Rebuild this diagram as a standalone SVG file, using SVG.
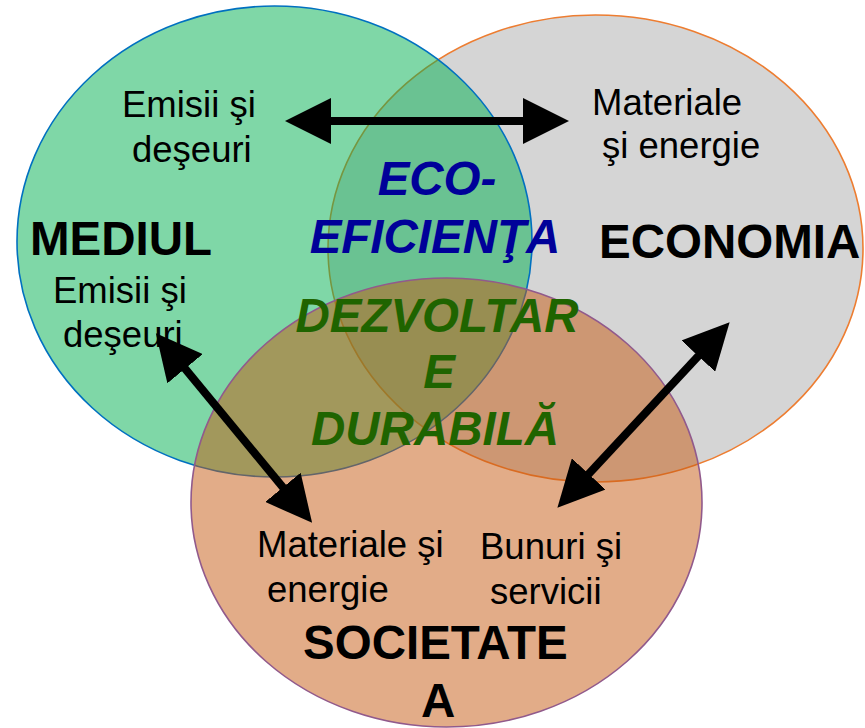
<svg xmlns="http://www.w3.org/2000/svg" width="865" height="728" viewBox="0 0 865 728">
<style>
.t{font-family:"Liberation Sans",Arial,sans-serif;font-size:36.5px;fill:#000}
.b{font-family:"Liberation Sans",Arial,sans-serif;font-size:47.5px;font-weight:bold;fill:#000}
.eco{font-family:"Liberation Sans",Arial,sans-serif;font-size:47.5px;font-weight:bold;font-style:italic;fill:#000099;text-anchor:middle}
.dd{font-family:"Liberation Sans",Arial,sans-serif;font-size:47.5px;font-weight:bold;font-style:italic;fill:#1F6400;text-anchor:middle}
.arr{stroke:#000;stroke-width:8;fill:none;marker-start:url(#ah);marker-end:url(#ah)}
</style>
<defs>
<marker id="ah" markerUnits="userSpaceOnUse" markerWidth="46" markerHeight="46" viewBox="0 0 46 46" refX="26" refY="23" orient="auto-start-reverse">
<path d="M0,0 L46,23 L0,46 Z" fill="#000"/>
</marker>
</defs>
<g id="economia">
<ellipse cx="595.5" cy="248.5" rx="267.5" ry="233.5" fill="#D5D5D5" stroke="#ED7D31" stroke-width="1.6"/>
<text class="b" x="599" y="258">ECONOMIA</text>
</g>
<g id="mediul">
<ellipse cx="274.5" cy="241.5" rx="257.5" ry="235.5" fill="#00B050" fill-opacity="0.5" stroke="#0070C0" stroke-width="1.6"/>
<text class="b" x="30" y="255">MEDIUL</text>
</g>
<g id="societatea">
<ellipse cx="446.5" cy="502.5" rx="255.5" ry="224.5" fill="#C55A11" fill-opacity="0.5" stroke="#915A8C" stroke-width="1.6"/>
<text class="b" x="303" y="659">SOCIETATE</text>
<text class="b" x="421" y="717">A</text>
</g>
<g id="eco-eficienta">
<text class="eco" x="437" y="195">ECO-</text>
<text class="eco" x="435" y="253">EFICIENŢA</text>
</g>
<g id="dezvoltare-durabila">
<text class="dd" x="437" y="332">DEZVOLTAR</text>
<text class="dd" x="439" y="388">E</text>
<text class="dd" x="435" y="445">DURABILĂ</text>
</g>
<g id="label-emisii-top">
<text class="t" x="122" y="117">Emisii şi</text>
<text class="t" x="132" y="162">deşeuri</text>
</g>
<g id="label-materiale-top">
<text class="t" x="592" y="115">Materiale</text>
<text class="t" x="602" y="158">şi energie</text>
</g>
<g id="label-emisii-left">
<text class="t" x="53" y="303">Emisii şi</text>
<text class="t" x="63" y="347">deşeuri</text>
</g>
<g id="label-materiale-bottom">
<text class="t" x="257" y="557">Materiale şi</text>
<text class="t" x="267" y="602">energie</text>
</g>
<g id="label-bunuri">
<text class="t" x="480" y="559">Bunuri şi</text>
<text class="t" x="490" y="604">servicii</text>
</g>
<g id="connectors">
<path class="arr" d="M305,121 L549,121"/>
<path class="arr" d="M168.6,348.6 L299.4,507.4"/>
<path class="arr" d="M716,337 L571,493"/>
</g>
</svg>
